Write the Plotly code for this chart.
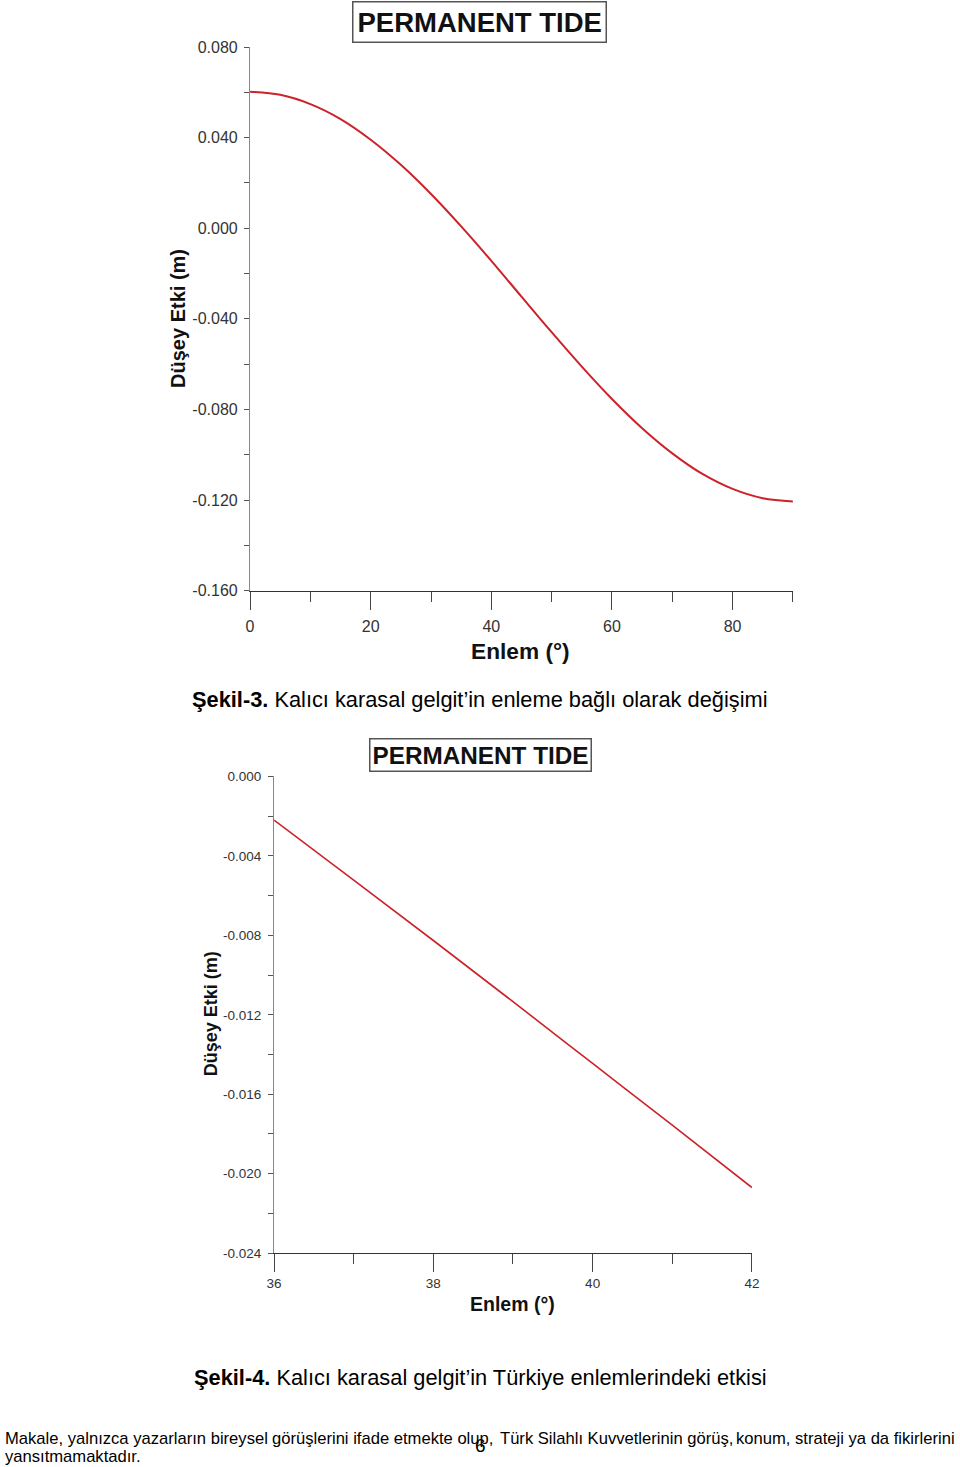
import plotly.graph_objects as go

# ---------------- data ----------------
lat_all = [0, 5, 10, 15, 20, 25, 30, 35, 40, 45, 50, 55, 60, 65, 70, 75, 80, 85, 90]
tide_all = [0.0603, 0.0589, 0.0548, 0.0482, 0.0391, 0.0280, 0.0151, 0.0008, -0.0144,
            -0.0302, -0.0459, -0.0611, -0.0754, -0.0883, -0.0994, -0.1085, -0.1151,
            -0.1192, -0.1206]

lat_tr = [36, 37, 38, 39, 40, 41, 42]
tide_tr = [-0.0022, -0.00522, -0.00826, -0.01134, -0.01445, -0.01756, -0.0207]

x1_ticks = [0, 20, 40, 60, 80]
x1_labels = ["0", "20", "40", "60", "80"]
y1_ticks = [0.08, 0.04, 0.0, -0.04, -0.08, -0.12, -0.16]
y1_labels = ["0.080", "0.040", "0.000", "-0.040", "-0.080", "-0.120", "-0.160"]

x2_ticks = [36, 38, 40, 42]
x2_labels = ["36", "38", "40", "42"]
y2_ticks = [0.0, -0.004, -0.008, -0.012, -0.016, -0.020, -0.024]
y2_labels = ["0.000", "-0.004", "-0.008", "-0.012", "-0.016", "-0.020", "-0.024"]

chart_title = "PERMANENT TIDE"
x_title = "Enlem (°)"
y_title = "Düşey Etki (m)"
caption3 = "<b>Şekil-3.</b> Kalıcı karasal gelgit’in enleme bağlı olarak değişimi"
caption4 = "<b>Şekil-4.</b> Kalıcı karasal gelgit’in Türkiye enlemlerindeki etkisi"
footer_chunks = ["Makale, yalnızca yazarların bireysel",
                 "görüşlerini ifade etmekte olup,",
                 "Türk Silahlı Kuvvetlerinin görüş,",
                 "konum, strateji ya da fikirlerini"]
footer2 = "yansıtmamaktadır."
page_no = "6"

# ---------------- layout helpers ----------------
# The page body has an 8px margin; the photographed page (976x1483) maps onto 960x1467.
OFF = 8
W, H = 960, 1467
SX, SY = (W + 2 * OFF) / 960.0, (H + 2 * OFF) / 1467.0
FONT = "Liberation Sans, Arial, sans-serif"
LINE_COLOR = "#cc2229"


def px(x):
    return (x * SX - OFF) / W


def py(y):
    return 1 - (y * SY - OFF) / H


fig = go.Figure()
fig.add_trace(go.Scatter(x=lat_all, y=tide_all, mode="lines",
                         line=dict(color=LINE_COLOR, width=2, shape="spline"),
                         xaxis="x", yaxis="y", showlegend=False))
fig.add_trace(go.Scatter(x=lat_tr, y=tide_tr, mode="lines",
                         line=dict(color=LINE_COLOR, width=1.6, shape="spline"),
                         xaxis="x2", yaxis="y2", showlegend=False))

common_x = dict(showgrid=False, zeroline=False, showline=True, linecolor="#333", linewidth=1.3,
                ticks="outside", tickcolor="#444", tickwidth=1.3, tickmode="array")
common_y = dict(showgrid=False, zeroline=False, showline=True, linecolor="#888", linewidth=1.3,
                ticks="outside", tickcolor="#555", tickwidth=1.2, ticklen=5, tickmode="array")

fig.update_layout(
    width=W, height=H,
    margin=dict(l=0, r=0, t=0, b=0),
    paper_bgcolor="white", plot_bgcolor="white",
    font=dict(family=FONT, color="#333"),
    xaxis=dict(common_x, domain=[px(250), px(793)], range=[0, 90], anchor="y",
               tickvals=x1_ticks, ticktext=x1_labels, ticklen=18, ticklabelstandoff=3,
               tickfont=dict(size=16, color="#333"),
               minor=dict(ticks="outside", tickmode="linear", tick0=0, dtick=10, ticklen=10,
                          tickcolor="#444", tickwidth=1.3, showgrid=False)),
    yaxis=dict(common_y, domain=[py(591), py(47)], range=[-0.16, 0.08], anchor="x",
               tickvals=y1_ticks, ticktext=y1_labels, tickfont=dict(size=16, color="#333"),
               ticklabelstandoff=3,
               minor=dict(ticks="outside", tickmode="linear", tick0=0, dtick=0.02, ticklen=5,
                          tickcolor="#555", tickwidth=1.2, showgrid=False)),
    xaxis2=dict(common_x, domain=[px(274), px(752)], range=[36, 42], anchor="y2",
                tickvals=x2_ticks, ticktext=x2_labels, ticklen=18,
                tickfont=dict(size=13.5, color="#333"),
                minor=dict(ticks="outside", tickmode="linear", tick0=36, dtick=1, ticklen=10,
                           tickcolor="#444", tickwidth=1.3, showgrid=False)),
    yaxis2=dict(common_y, domain=[py(1254), py(777)], range=[-0.024, 0.0], anchor="x2",
                tickvals=y2_ticks, ticktext=y2_labels, tickfont=dict(size=13.5, color="#333"),
                ticklabelstandoff=4,
                minor=dict(ticks="outside", tickmode="linear", tick0=0, dtick=0.002, ticklen=5,
                           tickcolor="#555", tickwidth=1.2, showgrid=False)),
)

ann = []
# chart titles in boxes
ann.append(dict(x=px(479.5), y=py(22), text=f"<b>{chart_title}</b>",
                font=dict(size=27.5, color="#111", family=FONT),
                bordercolor="#555", borderwidth=1.5, borderpad=4))
ann.append(dict(x=px(480), y=py(755.5), text=f"<b>{chart_title}</b>",
                font=dict(size=24.3, color="#111", family=FONT),
                bordercolor="#555", borderwidth=1.5, borderpad=2))
# axis titles
ann.append(dict(x=px(521), y=py(651), text=f"<b>{x_title}</b>", font=dict(size=22.7, color="#111", family=FONT)))
ann.append(dict(x=px(513), y=py(1305), text=f"<b>{x_title}</b>", font=dict(size=19.5, color="#111", family=FONT)))
ann.append(dict(x=px(178), y=py(319), text=f"<b>{y_title}</b>", textangle=-90,
                font=dict(size=20, color="#111", family=FONT)))
ann.append(dict(x=px(211), y=py(1015), text=f"<b>{y_title}</b>", textangle=-90,
                font=dict(size=18, color="#111", family=FONT)))
# captions
ann.append(dict(x=px(480), y=py(700), text=caption3, font=dict(size=21.8, color="#000", family=FONT)))
ann.append(dict(x=px(480), y=py(1379), text=caption4, font=dict(size=21.8, color="#000", family=FONT)))
# footer (justified line built from chunks)
foot_font = dict(size=16.6, color="#000", family=FONT)
ann.append(dict(x=px(3), y=py(1440), text=footer_chunks[0], xanchor="left", font=foot_font))
ann.append(dict(x=px(270), y=py(1440), text=footer_chunks[1], xanchor="left", font=foot_font))
ann.append(dict(x=px(498), y=py(1440), text=footer_chunks[2], xanchor="left", font=foot_font))
ann.append(dict(x=px(957), y=py(1440), text=footer_chunks[3], xanchor="right", font=foot_font))
ann.append(dict(x=px(3), y=py(1458), text=footer2, xanchor="left", font=foot_font))
ann.append(dict(x=px(480), y=py(1447), text=page_no, font=dict(size=19, color="#000", family=FONT)))

for a in ann:
    a.update(xref="paper", yref="paper", showarrow=False)
    a.setdefault("xanchor", "center")
    a.setdefault("yanchor", "middle")
fig.update_layout(annotations=ann)

fig.write_html("out.html")
